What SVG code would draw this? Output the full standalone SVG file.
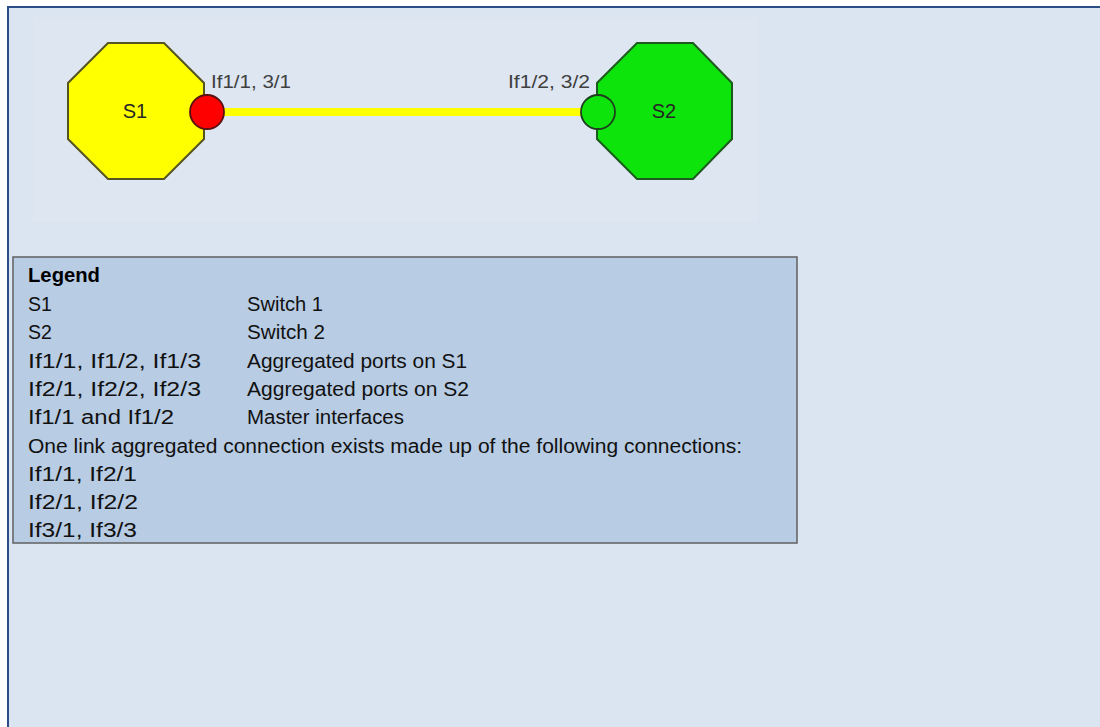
<svg xmlns="http://www.w3.org/2000/svg" width="1100" height="727" viewBox="0 0 1100 727">
  <style>
    .frame { fill: #dbe5f1; stroke: #2a4d85; stroke-width: 2; }
    .shot { fill: #dde6f1; }
    .octS1 { fill: #ffff00; stroke: #55551f; stroke-width: 2; }
    .octS2 { fill: #0ce40c; stroke: #1d5a1d; stroke-width: 2; }
    .portR { fill: #ff0000; stroke: #5a1010; stroke-width: 1.8; }
    .portG { fill: #0ce40c; stroke: #1d3f1d; stroke-width: 1.8; }
    .link { stroke: #ffff00; stroke-width: 8; fill: none; }
    .nlabel { font-family: "Liberation Sans", Arial, sans-serif; font-size: 20px; fill: #262626; text-anchor: middle; }
    .plabel { font-family: "Liberation Sans", Arial, sans-serif; font-size: 18px; fill: #404040; }
    .legbox { fill: #b8cce4; stroke: #606060; stroke-width: 1.5; }
    .lt { font-family: "Liberation Sans", Arial, sans-serif; font-size: 19.5px; fill: #111111; }
    .lh { font-family: "Liberation Sans", Arial, sans-serif; font-size: 20px; font-weight: bold; fill: #000000; }
  </style>
  <rect width="1100" height="727" fill="#ffffff"/>
  <rect class="frame" x="8" y="7" width="1100" height="730"/>
  <rect class="shot" x="33" y="17" width="725" height="205"/>

  <g id="connectors">
    <line class="link" x1="222" y1="112" x2="584" y2="112"/>
  </g>

  <g id="S1">
    <polygon class="octS1" points="108,43 164,43 204,83 204,139 164,179 108,179 68,139 68,83"/>
    <text class="nlabel" x="135" y="118">S1</text>
  </g>

  <g id="S2">
    <polygon class="octS2" points="637,43 693,43 732,83 732,139 693,179 637,179 597,139 597,83"/>
    <text class="nlabel" x="664" y="118">S2</text>
  </g>

  <g id="port-S1">
    <circle class="portR" cx="207" cy="112" r="17"/>
    <text class="plabel" x="211" y="88" textLength="80" lengthAdjust="spacingAndGlyphs">If1/1, 3/1</text>
  </g>

  <g id="port-S2">
    <circle class="portG" cx="598" cy="112" r="17"/>
    <text class="plabel" x="508" y="88" textLength="82" lengthAdjust="spacingAndGlyphs">If1/2, 3/2</text>
  </g>

  <g id="legend">
    <rect class="legbox" x="13" y="257" width="784" height="286"/>
    <text class="lh" x="28" y="282" textLength="72" lengthAdjust="spacingAndGlyphs">Legend</text>
    <text class="lt" x="28" y="311">S1</text>
    <text class="lt" x="247" y="311" textLength="76" lengthAdjust="spacingAndGlyphs">Switch 1</text>
    <text class="lt" x="28" y="339">S2</text>
    <text class="lt" x="247" y="339" textLength="78" lengthAdjust="spacingAndGlyphs">Switch 2</text>
    <text class="lt" x="28" y="368" textLength="173" lengthAdjust="spacingAndGlyphs">If1/1, If1/2, If1/3</text>
    <text class="lt" x="247" y="368" textLength="220" lengthAdjust="spacingAndGlyphs">Aggregated ports on S1</text>
    <text class="lt" x="28" y="396" textLength="173" lengthAdjust="spacingAndGlyphs">If2/1, If2/2, If2/3</text>
    <text class="lt" x="247" y="396" textLength="222" lengthAdjust="spacingAndGlyphs">Aggregated ports on S2</text>
    <text class="lt" x="28" y="424" textLength="146" lengthAdjust="spacingAndGlyphs">If1/1 and If1/2</text>
    <text class="lt" x="247" y="424" textLength="157" lengthAdjust="spacingAndGlyphs">Master interfaces</text>
    <text class="lt" x="28" y="453" textLength="714" lengthAdjust="spacingAndGlyphs">One link aggregated connection exists made up of the following connections:</text>
    <text class="lt" x="28" y="481" textLength="109" lengthAdjust="spacingAndGlyphs">If1/1, If2/1</text>
    <text class="lt" x="28" y="509" textLength="110" lengthAdjust="spacingAndGlyphs">If2/1, If2/2</text>
    <text class="lt" x="28" y="537" textLength="109" lengthAdjust="spacingAndGlyphs">If3/1, If3/3</text>
  </g>
</svg>
